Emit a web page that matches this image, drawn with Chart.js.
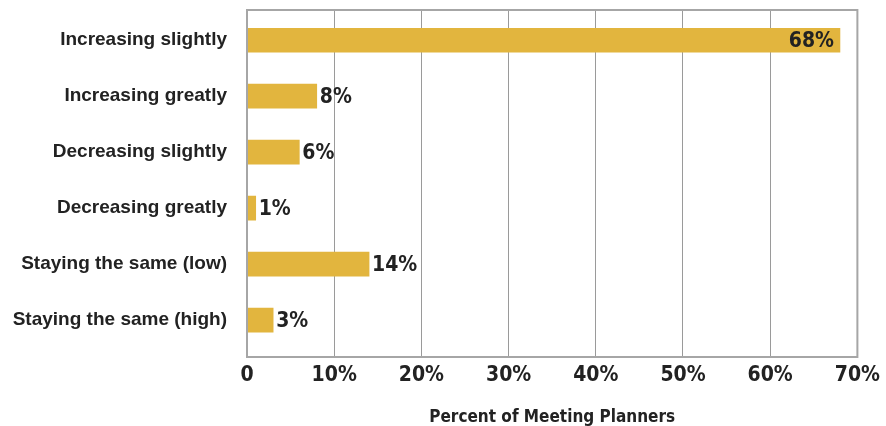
<!DOCTYPE html>
<html>
<head>
<meta charset="utf-8">
<script src="https://cdn.jsdelivr.net/npm/chart.js@4.4.1/dist/chart.umd.min.js"></script>
<style>
  html, body { margin: 0; padding: 0; background: #fff; }
  #wrap { width: 886px; height: 426px; }
</style>
</head>
<body>
<div id="wrap"><canvas id="planners" width="886" height="426"></canvas></div>
<script>
// ---- data ----
const categories = [
  "Increasing slightly",
  "Increasing greatly",
  "Decreasing slightly",
  "Decreasing greatly",
  "Staying the same (low)",
  "Staying the same (high)",
];
const percents = [68, 8, 6, 1, 14, 3];
const xTicks = [0, 10, 20, 30, 40, 50, 60, 70];
const axisTitle = "Percent of Meeting Planners";

const GOLD = "#E2B53E";
const INK = "#222222";
const NARROW = "'DejaVu Sans Condensed', 'Liberation Sans Narrow', sans-serif";

// one row per category, placed on a numeric row axis
const rows = percents.map((v, i) => ({ x: v, y: i }));

// box around the plot area
const frame = {
  id: "frame",
  afterDraw(chart) {
    const { ctx, chartArea: a } = chart;
    ctx.save();
    ctx.strokeStyle = "#a6a6a6";
    ctx.lineWidth = 2;
    ctx.strokeRect(a.left, a.top, a.right - a.left, a.bottom - a.top);
    ctx.restore();
  },
};

// percent labels: inside the long bar, right after the short ones
const valueLabels = {
  id: "valueLabels",
  afterDatasetsDraw(chart) {
    const { ctx } = chart;
    const meta = chart.getDatasetMeta(0);
    ctx.save();
    ctx.font = "bold 21px " + NARROW;
    ctx.fillStyle = INK;
    ctx.textBaseline = "middle";
    meta.data.forEach((bar, i) => {
      const txt = percents[i] + "%";
      if (percents[i] > 40) {
        ctx.textAlign = "right";
        ctx.fillText(txt, bar.x - 6, bar.y + 1);
      } else {
        ctx.textAlign = "left";
        ctx.fillText(txt, bar.x + 3, bar.y + 1);
      }
    });
    ctx.restore();
  },
};

new Chart(document.getElementById("planners"), {
  type: "bar",
  data: {
    datasets: [{
      data: rows,
      backgroundColor: GOLD,
      borderWidth: 0,
      barThickness: 24,
    }],
  },
  options: {
    indexAxis: "y",
    responsive: false,
    animation: false,
    layout: { padding: { top: 10, right: 27, left: 0, bottom: 0 } },
    plugins: { legend: { display: false }, tooltip: { enabled: false } },
    scales: {
      x: {
        min: 0,
        max: 70,
        afterBuildTicks: s => { s.ticks = xTicks.map(v => ({ value: v })); },
        afterFit: s => { s.height = 69; },
        grid: { color: "#9a9a9a", lineWidth: 1, drawTicks: false },
        border: { display: false },
        ticks: {
          padding: 6,
          color: INK,
          font: { family: NARROW, size: 21, weight: "bold" },
          callback: v => (v === 0 ? "0" : v + "%"),
        },
        title: {
          display: true,
          text: axisTitle,
          color: INK,
          font: { family: NARROW, size: 17, weight: "bold" },
          padding: { top: 0, bottom: -2 },
        },
      },
      y: {
        type: "linear",
        reverse: true,
        offset: false,
        min: -0.54,
        max: 5.66,
        afterBuildTicks: s => { s.ticks = categories.map((c, i) => ({ value: i })); },
        afterFit: s => { s.width = 247; s.paddingTop = 0; s.paddingBottom = 0; },
        grid: { display: false, offset: false },
        border: { display: false },
        ticks: {
          padding: 12,
          color: INK,
          font: { family: "'Liberation Sans', Arial, sans-serif", size: 19, weight: "bold" },
          callback: v => categories[v],
        },
      },
    },
  },
  plugins: [frame, valueLabels],
});
</script>
</body>
</html>
